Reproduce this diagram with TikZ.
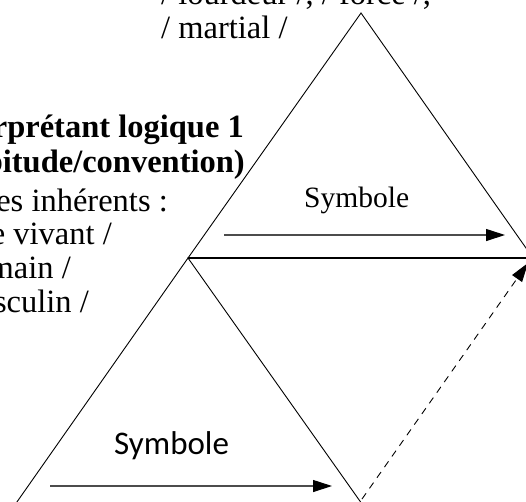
\documentclass[tikz,border=0pt]{standalone}
\usepackage{fontspec}
\setmainfont{Liberation Serif}
\newfontfamily\calibrifont{Carlito}
\usetikzlibrary{arrows.meta}

\begin{document}
\begin{tikzpicture}[x=1pt, y=-1pt,
        side/.style={draw=black, line width=0.9pt},
        sign/.style={draw=black!70, line width=1.1pt,
            -{Triangle[length=19pt, width=12pt, color=black]}},
        back/.style={draw=black, line width=0.9pt, dash pattern=on 7pt off 6pt,
            -{Triangle[length=19pt, width=12pt]}},
        serif/.style={inner sep=0pt, font=\fontsize{32.5}{35}\selectfont},
        serifbold/.style={inner sep=0pt, font=\fontsize{32.5}{35}\selectfont\bfseries},
        label/.style={inner sep=0pt, anchor=base west}]

    % Fix the frame and cut everything at its edges
    \useasboundingbox (0,0) rectangle (526,501);
    \clip (0,0) rectangle (526,501);

    % Corners of the two triangles
    \coordinate (upTop)   at (361,13);
    \coordinate (upLeft)  at (188,258);
    \coordinate (upRight) at (533,258);
    \coordinate (lowLeft)  at (15.5,504);
    \coordinate (lowRight) at (362,504);

    % Draw the upper triangle
    \draw[side] (upTop) -- (upLeft) -- (upRight) -- cycle;
    \draw[side, line width=1.2pt] (upLeft) -- (upRight);

    % Draw the lower triangle
    \draw[side] (upLeft) -- (lowLeft) -- (lowRight) -- cycle;

    % Arrows under the two labels
    \coordinate (upFrom) at (224,235);
    \coordinate (upTo)   at (505,235);
    \coordinate (lowFrom) at (50,486);
    \coordinate (lowTo)   at (332,486);
    \draw[sign] (upFrom) -- (upTo);
    \draw[sign] (lowFrom) -- (lowTo);

    % Dashed way back to the upper corner
    \coordinate (backFrom) at (362,499);
    \coordinate (backTo)   at (528,263);
    \draw[back] (backFrom) -- (backTo);

    % Triangle labels
    \node[label, font=\fontsize{29.5}{33}\selectfont] (symUp) at (304,207) {Symbole};
    \node[label, font=\calibrifont\fontsize{33}{38}\selectfont] (symLow) at (114,454) {Symbole};

    % Text on the left
    \node[serif, anchor=base west] (qualA) at (161,4) {/ lourdeur /, / force /,};
    \node[serif, anchor=base west] (qualB) at (161,38) {/ martial /};
    \node[serifbold, anchor=base east] (interA) at (244,137) {rprétant logique 1};
    \node[serifbold, anchor=base east] (interB) at (245,172) {bitude/convention)};
    \node[serif, anchor=base east] (semA) at (168,211) {es inhérents :};
    \node[serif, anchor=base east] (semB) at (112,244) {e vivant /};
    \node[serif, anchor=base east] (semC) at (71,278) {main /};
    \node[serif, anchor=base east] (semD) at (89,312) {sculin /};

\end{tikzpicture}
\end{document}
